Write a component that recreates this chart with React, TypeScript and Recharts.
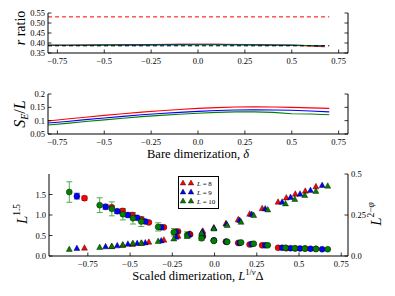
import React from 'react';
import { LineChart, Line, XAxis, YAxis, ScatterChart, Scatter, ErrorBar } from 'recharts';

const FONT = '"Liberation Serif", "DejaVu Serif", serif';

// ---------- Panel 1: r ratio vs bare dimerization ----------
const rGrid = [-0.8, -0.7, -0.6, -0.5, -0.4, -0.3, -0.2, -0.1, 0.0, 0.1, 0.2, 0.3, 0.4, 0.5, 0.6, 0.675];
const rRatioL8 = [0.389, 0.389, 0.39, 0.39, 0.391, 0.392, 0.393, 0.394, 0.394, 0.394, 0.393, 0.392, 0.39, 0.388, 0.385, 0.381];
const rRatioL9 = [0.389, 0.389, 0.389, 0.39, 0.391, 0.391, 0.392, 0.393, 0.393, 0.393, 0.392, 0.391, 0.39, 0.389, 0.387, 0.386];
const rRatioL10 = [0.388, 0.388, 0.389, 0.392, 0.389, 0.389, 0.39, 0.39, 0.391, 0.391, 0.39, 0.39, 0.389, 0.39, 0.387, 0.385];
const refGrid = [-0.8, 0.7];
const rPoisson = [0.386, 0.386];
const rGOE = [0.5307, 0.5307];

// ---------- Panel 2: S_E/L vs bare dimerization ----------
const seGrid = [-0.8, -0.7, -0.6, -0.5, -0.4, -0.3, -0.2, -0.1, 0.0, 0.1, 0.2, 0.3, 0.4, 0.5, 0.6, 0.7];
const seL8 = [0.099, 0.106, 0.113, 0.12, 0.126, 0.132, 0.137, 0.142, 0.146, 0.149, 0.151, 0.152, 0.151, 0.15, 0.148, 0.146];
const seL9 = [0.091, 0.097, 0.104, 0.11, 0.116, 0.122, 0.127, 0.131, 0.135, 0.138, 0.14, 0.141, 0.14, 0.139, 0.136, 0.133];
const seL10 = [0.084, 0.09, 0.097, 0.103, 0.109, 0.115, 0.12, 0.124, 0.128, 0.131, 0.133, 0.133, 0.131, 0.126, 0.125, 0.122];

// ---------- Panel 3: scaled collapse ----------
const xL8 = [-0.77, -0.609, -0.544, -0.486, -0.432, -0.389, -0.3, -0.216, -0.145, -0.069, -0.004, 0.067, 0.14, 0.208, 0.282, 0.376, 0.425, 0.478, 0.537, 0.6];
const xL9 = [-0.815, -0.645, -0.576, -0.513, -0.458, -0.41, -0.316, -0.227, -0.152, -0.073, -0.004, 0.071, 0.149, 0.22, 0.3, 0.4, 0.45, 0.506, 0.568, 0.637];
const xL10 = [-0.86, -0.68, -0.608, -0.543, -0.483, -0.434, -0.334, -0.241, -0.162, -0.077, -0.004, 0.075, 0.157, 0.232, 0.315, 0.42, 0.475, 0.534, 0.6, 0.67];
const circL8 = [1.41, 1.19, 1.1, 1.0, 0.89, 0.82, 0.7, 0.6, 0.53, 0.48, 0.38, 0.35, 0.32, 0.28, 0.26, 0.2, 0.19, 0.185, 0.18, 0.175];
const circL9 = [1.46, 1.2, 1.09, 1.0, 0.93, 0.84, 0.7, 0.58, 0.52, 0.47, 0.38, 0.35, 0.32, 0.29, 0.26, 0.2, 0.19, 0.185, 0.175, 0.165];
const circL10 = [1.56, 1.24, 1.15, 1.02, 0.92, 0.84, 0.71, 0.58, 0.51, 0.43, 0.37, 0.345, 0.33, 0.3, 0.26, 0.2, 0.19, 0.18, 0.17, 0.165];
const errL8 = [0.05, 0.04, 0.04, 0.03, 0.03, 0.03, 0.02, 0.02, 0.02, 0.01, 0.01, 0.01, 0.01, 0.01, 0.01, 0.0, 0.0, 0.0, 0.0, 0.0];
const errL9 = [0.07, 0.06, 0.05, 0.05, 0.04, 0.04, 0.03, 0.03, 0.02, 0.02, 0.01, 0.01, 0.01, 0.01, 0.01, 0.0, 0.0, 0.0, 0.0, 0.0];
const errL10 = [0.25, 0.18, 0.17, 0.14, 0.14, 0.12, 0.1, 0.09, 0.08, 0.05, 0.03, 0.02, 0.02, 0.02, 0.01, 0.01, 0.01, 0.01, 0.01, 0.01];
const triL8 = [0.049, 0.058, 0.065, 0.072, 0.078, 0.085, 0.098, 0.122, 0.135, 0.152, 0.172, 0.198, 0.222, 0.256, 0.29, 0.329, 0.355, 0.378, 0.396, 0.423];
const triL9 = [0.047, 0.057, 0.063, 0.073, 0.077, 0.081, 0.093, 0.116, 0.13, 0.148, 0.17, 0.195, 0.218, 0.254, 0.288, 0.329, 0.358, 0.378, 0.4, 0.431];
const triL10 = [0.041, 0.053, 0.059, 0.069, 0.077, 0.079, 0.09, 0.105, 0.122, 0.14, 0.166, 0.187, 0.207, 0.248, 0.282, 0.319, 0.346, 0.37, 0.395, 0.427];

// ---------- Ticks ----------
const xTicks = [-0.75, -0.5, -0.25, 0, 0.25, 0.5, 0.75];
const xTickLabels = ['\u22120.75', '\u22120.5', '\u22120.25', '0.0', '0.25', '0.5', '0.75'];
const rTicks = [0.35, 0.4, 0.45, 0.5, 0.55];
const rTickLabels = ['0.35', '0.40', '0.45', '0.50', '0.55'];
const seTicks = [0.05, 0.1, 0.15, 0.2];
const seTickLabels = ['0.05', '0.1', '0.15', '0.2'];
const leftTicks3 = [0, 0.5, 1.0, 1.5];
const leftTickLabels3 = ['0.0', '0.5', '1.0', '1.5'];
const rightTicks3 = [0, 0.25, 0.5];
const rightTickLabels3 = ['0.0', '0.25', '0.5'];

const RED = '#ff0000';
const BLUE = '#0000ff';
const GREEN = '#008000';

const lbl = (ticks: number[], labels: string[], v: number) => {
  const i = ticks.findIndex((t) => Math.abs(t - v) < 1e-9);
  return i >= 0 ? labels[i] : '';
};

const TL = 3.5;
const TS = 8.5;

const bottomTick = (ticks: number[], labels: string[], showLabel = true) => (p: any) => (
  <g>
    <line x1={p.x} x2={p.x} y1={p.y} y2={p.y - TL} stroke="#000" strokeWidth={0.8} />
    {showLabel && (
      <text x={p.x} y={p.y + 10.5} textAnchor="middle" fontSize={TS} fontFamily={FONT} fill="#000">
        {lbl(ticks, labels, p.payload.value)}
      </text>
    )}
  </g>
);
const topTick = () => (p: any) => (
  <line x1={p.x} x2={p.x} y1={p.y} y2={p.y + TL} stroke="#000" strokeWidth={0.8} />
);
const leftTick = (ticks: number[], labels: string[]) => (p: any) => (
  <g>
    <line x1={p.x} x2={p.x + TL} y1={p.y} y2={p.y} stroke="#000" strokeWidth={0.8} />
    <text x={p.x - 3} y={p.y + 3} textAnchor="end" fontSize={TS} fontFamily={FONT} fill="#000">
      {lbl(ticks, labels, p.payload.value)}
    </text>
  </g>
);
const rightTick = (ticks: number[], labels: string[], showLabel: boolean) => (p: any) => (
  <g>
    <line x1={p.x} x2={p.x - TL} y1={p.y} y2={p.y} stroke="#000" strokeWidth={0.8} />
    {showLabel && (
      <text x={p.x + 3} y={p.y + 3} textAnchor="start" fontSize={TS} fontFamily={FONT} fill="#000">
        {lbl(ticks, labels, p.payload.value)}
      </text>
    )}
  </g>
);

const AX = { stroke: '#000', strokeWidth: 1 };

const toXY = (xs: number[], ys: number[]) => xs.map((x, i) => ({ x, y: ys[i] }));
const toXYE = (xs: number[], ys: number[], es: number[]) => xs.map((x, i) => ({ x, y: ys[i], err: es[i] }));

function Panel1() {
  return (
    <LineChart width={395} height={70} margin={{ top: 13, right: 0, bottom: 0, left: 0 }}>
      <XAxis xAxisId="b" type="number" dataKey="x" domain={[-0.8, 0.8]} ticks={xTicks} interval={0} allowDataOverflow
        height={17} tickSize={0} tickMargin={0} axisLine={AX} tickLine={false} tick={bottomTick(xTicks, xTickLabels)} />
      <XAxis xAxisId="t" orientation="top" type="number" dataKey="x" domain={[-0.8, 0.8]} ticks={xTicks} interval={0}
        allowDataOverflow height={0} tickSize={0} tickMargin={0} axisLine={AX} tickLine={false} tick={topTick()} />
      <YAxis yAxisId="l" type="number" domain={[0.35, 0.55]} ticks={rTicks} interval={0} allowDataOverflow width={48}
        tickSize={0} tickMargin={0} axisLine={AX} tickLine={false} tick={leftTick(rTicks, rTickLabels)} />
      <YAxis yAxisId="r" orientation="right" type="number" domain={[0.35, 0.55]} ticks={rTicks} interval={0}
        allowDataOverflow width={47} tickSize={0} tickMargin={0} axisLine={AX} tickLine={false}
        tick={rightTick(rTicks, rTickLabels, false)} />
      <Line xAxisId="b" yAxisId="l" data={toXY(refGrid, rGOE)} dataKey="y" stroke={RED} strokeWidth={1} strokeDasharray="4 3" dot={false} isAnimationActive={false} />
      <Line xAxisId="b" yAxisId="l" data={toXY(rGrid, rRatioL8)} dataKey="y" stroke={RED} strokeWidth={1} dot={false} isAnimationActive={false} />
      <Line xAxisId="b" yAxisId="l" data={toXY(rGrid, rRatioL9)} dataKey="y" stroke={BLUE} strokeWidth={1} dot={false} isAnimationActive={false} />
      <Line xAxisId="b" yAxisId="l" data={toXY(rGrid, rRatioL10)} dataKey="y" stroke={GREEN} strokeWidth={1} dot={false} isAnimationActive={false} />
      <Line xAxisId="b" yAxisId="l" data={toXY(refGrid, rPoisson)} dataKey="y" stroke="#000" strokeWidth={1} strokeDasharray="4 3" dot={false} isAnimationActive={false} />
    </LineChart>
  );
}

function Panel2() {
  return (
    <LineChart width={395} height={70} margin={{ top: 14, right: 0, bottom: 0, left: 0 }}>
      <XAxis xAxisId="b" type="number" dataKey="x" domain={[-0.8, 0.8]} ticks={xTicks} interval={0} allowDataOverflow
        height={16} tickSize={0} tickMargin={0} axisLine={AX} tickLine={false} tick={bottomTick(xTicks, xTickLabels)} />
      <XAxis xAxisId="t" orientation="top" type="number" dataKey="x" domain={[-0.8, 0.8]} ticks={xTicks} interval={0}
        allowDataOverflow height={0} tickSize={0} tickMargin={0} axisLine={AX} tickLine={false} tick={topTick()} />
      <YAxis yAxisId="l" type="number" domain={[0.05, 0.2]} ticks={seTicks} interval={0} allowDataOverflow width={48}
        tickSize={0} tickMargin={0} axisLine={AX} tickLine={false} tick={leftTick(seTicks, seTickLabels)} />
      <YAxis yAxisId="r" orientation="right" type="number" domain={[0.05, 0.2]} ticks={seTicks} interval={0}
        allowDataOverflow width={47} tickSize={0} tickMargin={0} axisLine={AX} tickLine={false}
        tick={rightTick(seTicks, seTickLabels, false)} />
      <Line xAxisId="b" yAxisId="l" data={toXY(seGrid, seL8)} dataKey="y" stroke={RED} strokeWidth={1.1} dot={false} isAnimationActive={false} />
      <Line xAxisId="b" yAxisId="l" data={toXY(seGrid, seL9)} dataKey="y" stroke={BLUE} strokeWidth={1.1} dot={false} isAnimationActive={false} />
      <Line xAxisId="b" yAxisId="l" data={toXY(seGrid, seL10)} dataKey="y" stroke={GREEN} strokeWidth={1.1} dot={false} isAnimationActive={false} />
    </LineChart>
  );
}

const circleShape = (fill: string) => (p: any) => (
  <circle cx={p.cx} cy={p.cy} r={3.0} fill={fill} stroke="#000" strokeWidth={0.4} />
);
const triShape = (fill: string) => (p: any) => (
  <polygon points={`${p.cx},${p.cy - 3.3} ${p.cx - 3},${p.cy + 2.2} ${p.cx + 3},${p.cy + 2.2}`} fill={fill} stroke="#000" strokeWidth={0.4} />
);

function Panel3() {
  const series = [
    { xs: xL8, c: circL8, e: errL8, t: triL8, col: RED, ecol: '#ff4040' },
    { xs: xL9, c: circL9, e: errL9, t: triL9, col: BLUE, ecol: '#4040ff' },
    { xs: xL10, c: circL10, e: errL10, t: triL10, col: GREEN, ecol: '#55aa55' },
  ];
  return (
    <ScatterChart width={395} height={131} margin={{ top: 9, right: 0, bottom: 0, left: 0 }}>
      <XAxis xAxisId="b" type="number" dataKey="x" domain={[-0.98, 0.79]} ticks={xTicks} interval={0} allowDataOverflow
        height={40} tickSize={0} tickMargin={0} axisLine={AX} tickLine={false} tick={bottomTick(xTicks, xTickLabels)} />
      <XAxis xAxisId="t" orientation="top" type="number" dataKey="x" domain={[-0.98, 0.79]} ticks={xTicks} interval={0}
        allowDataOverflow height={0} tickSize={0} tickMargin={0} axisLine={AX} tickLine={false} tick={topTick()} />
      <YAxis yAxisId="l" type="number" dataKey="y" domain={[0, 2]} ticks={leftTicks3} interval={0} allowDataOverflow width={49}
        tickSize={0} tickMargin={0} axisLine={AX} tickLine={false} tick={leftTick(leftTicks3, leftTickLabels3)} />
      <YAxis yAxisId="r" orientation="right" type="number" dataKey="y" domain={[0, 0.5]} ticks={rightTicks3} interval={0}
        allowDataOverflow width={47} tickSize={0} tickMargin={0} axisLine={AX} tickLine={false}
        tick={rightTick(rightTicks3, rightTickLabels3, true)} />
      {series.map((s, i) => (
        <Scatter key={'c' + i} xAxisId="b" yAxisId="l" data={toXYE(s.xs, s.c, s.e)} dataKey="y" fill={s.col}
          shape={circleShape(s.col)} isAnimationActive={false}>
          <ErrorBar dataKey="err" direction="y" width={3} stroke={s.ecol} strokeWidth={1} />
        </Scatter>
      ))}
      {series.map((s, i) => (
        <Scatter key={'t' + i} xAxisId="b" yAxisId="r" data={toXY(s.xs, s.t)} dataKey="y" fill={s.col}
          shape={triShape(s.col)} isAnimationActive={false} />
      ))}
    </ScatterChart>
  );
}

const legendRows = [
  { col: RED, n: '8' },
  { col: BLUE, n: '9' },
  { col: GREEN, n: '10' },
];

function Overlay() {
  return (
    <svg width={395} height={296} style={{ position: 'absolute', left: 0, top: 0, pointerEvents: 'none' }}
      fontFamily={FONT}>
      <text transform="translate(25,28) rotate(-90)" textAnchor="middle" fontSize={14}>
        <tspan fontStyle="italic">r</tspan> ratio
      </text>
      <text transform="translate(25,114) rotate(-90)" textAnchor="middle" fontSize={16}>
        <tspan fontStyle="italic">S</tspan>
        <tspan fontStyle="italic" fontSize={10} dy={3}>E</tspan>
        <tspan dy={-3}>/</tspan>
        <tspan fontStyle="italic">L</tspan>
      </text>
      <text x={198} y={158} textAnchor="middle" fontSize={12.5}>
        Bare dimerization, <tspan fontStyle="italic">δ</tspan>
      </text>
      <text transform="translate(27,214) rotate(-90)" textAnchor="middle" fontSize={15}>
        <tspan fontStyle="italic">L</tspan>
        <tspan fontSize={9.5} dy={-7}>1.5</tspan>
      </text>
      <text transform="translate(381,214) rotate(-90)" textAnchor="middle" fontSize={15}>
        <tspan fontStyle="italic">L</tspan>
        <tspan fontSize={9.5} dy={-7}>2−</tspan>
        <tspan fontSize={9.5} fontStyle="italic">φ</tspan>
      </text>
      <text x={198} y={280} textAnchor="middle" fontSize={12.5}>
        Scaled dimerization,{' '}
        <tspan fontStyle="italic">L</tspan>
        <tspan fontSize={8.5} dy={-5}>1/</tspan>
        <tspan fontSize={8.5} fontStyle="italic">ν</tspan>
        <tspan dy={5}>Δ</tspan>
      </text>
      <rect x={178.5} y={176.5} width={40} height={32} fill="#fff" stroke="#000" strokeWidth={1} />
      {legendRows.map((r, i) => {
        const cy = 183 + i * 9;
        return (
          <g key={i}>
            <polygon points={`183,${cy - 3} 180.2,${cy + 2} 185.8,${cy + 2}`} fill={r.col} stroke="#000" strokeWidth={0.4} />
            <polygon points={`191,${cy - 3} 188.2,${cy + 2} 193.8,${cy + 2}`} fill={r.col} stroke="#000" strokeWidth={0.4} />
            <text x={197} y={cy + 2.5} fontSize={7}>
              <tspan fontStyle="italic">L</tspan> = {r.n}
            </text>
          </g>
        );
      })}
    </svg>
  );
}

export default function App() {
  return (
    <div style={{ position: 'absolute', left: 0, top: 0, width: 395, height: 296, background: '#fff', fontFamily: FONT }}>
      <div style={{ position: 'absolute', left: 0, top: 0 }}><Panel1 /></div>
      <div style={{ position: 'absolute', left: 0, top: 80 }}><Panel2 /></div>
      <div style={{ position: 'absolute', left: 0, top: 165 }}><Panel3 /></div>
      <Overlay />
    </div>
  );
}
